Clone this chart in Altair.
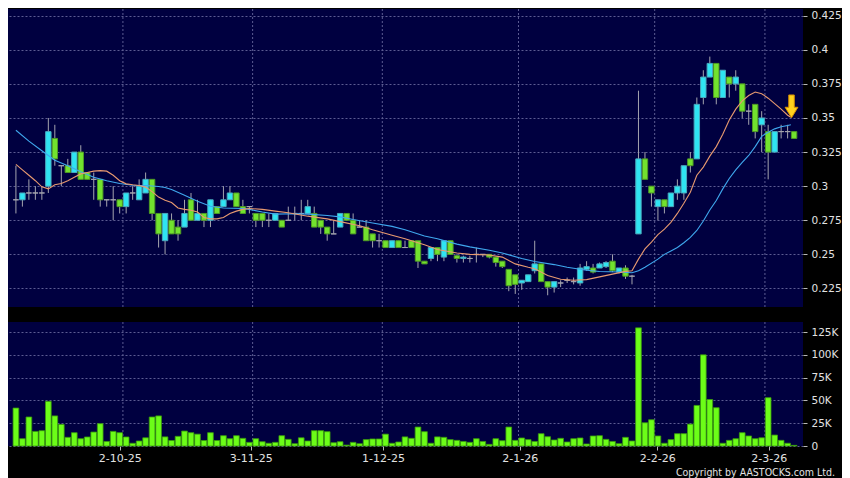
import altair as alt
import pandas as pd

# ---------------- data ----------------
opens = [
    0.29, 0.29, 0.295, 0.295, 0.295, 0.30, 0.335, 0.315, 0.315, 0.31,
    0.325, 0.31, 0.305, 0.305, 0.29, 0.29, 0.29, 0.285, 0.295, 0.29,
    0.295, 0.305, 0.28, 0.26, 0.275, 0.27, 0.27, 0.29, 0.275, 0.28,
    0.275, 0.285, 0.285, 0.29, 0.295, 0.285, 0.285, 0.28, 0.28, 0.275,
    0.275, 0.275, 0.275, 0.28, 0.28, 0.28, 0.28, 0.275, 0.27, 0.265,
    0.27, 0.28, 0.275, 0.27, 0.27, 0.265, 0.26, 0.26, 0.255, 0.26,
    0.255, 0.26, 0.26, 0.245, 0.247, 0.255, 0.248, 0.26, 0.249, 0.247,
    0.247, 0.25, 0.25, 0.25, 0.248, 0.245, 0.239, 0.235, 0.229, 0.23,
    0.238, 0.243, 0.23, 0.226, 0.229, 0.231, 0.23, 0.229, 0.239, 0.24,
    0.24, 0.241, 0.245, 0.237, 0.24, 0.234, 0.265, 0.32, 0.30, 0.285,
    0.29, 0.285, 0.295, 0.295, 0.32, 0.32, 0.365, 0.38, 0.39, 0.365,
    0.38, 0.375, 0.375, 0.355, 0.36, 0.345, 0.34, 0.325, 0.34, 0.34,
    0.34,
]
highs = [
    0.315, 0.295, 0.305, 0.30, 0.30, 0.35, 0.345, 0.315, 0.32, 0.325,
    0.33, 0.31, 0.31, 0.305, 0.29, 0.30, 0.29, 0.295, 0.30, 0.305,
    0.31, 0.305, 0.28, 0.28, 0.28, 0.275, 0.29, 0.295, 0.29, 0.28,
    0.29, 0.285, 0.30, 0.30, 0.295, 0.29, 0.285, 0.28, 0.28, 0.28,
    0.28, 0.275, 0.285, 0.285, 0.29, 0.29, 0.285, 0.275, 0.27, 0.275,
    0.28, 0.28, 0.28, 0.275, 0.275, 0.265, 0.265, 0.26, 0.26, 0.26,
    0.26, 0.26, 0.26, 0.245, 0.255, 0.255, 0.26, 0.26, 0.25, 0.249,
    0.249, 0.255, 0.25, 0.25, 0.248, 0.245, 0.239, 0.235, 0.231, 0.235,
    0.26, 0.243, 0.23, 0.23, 0.231, 0.233, 0.233, 0.243, 0.245, 0.243,
    0.244, 0.245, 0.25, 0.24, 0.242, 0.235, 0.37, 0.325, 0.30, 0.29,
    0.29, 0.295, 0.305, 0.315, 0.325, 0.365, 0.385, 0.395, 0.39, 0.385,
    0.38, 0.385, 0.375, 0.36, 0.36, 0.355, 0.345, 0.34, 0.345, 0.345,
    0.34,
]
lows = [
    0.28, 0.285, 0.29, 0.29, 0.29, 0.295, 0.315, 0.30, 0.31, 0.31,
    0.305, 0.305, 0.29, 0.285, 0.285, 0.275, 0.28, 0.28, 0.29, 0.29,
    0.295, 0.275, 0.255, 0.25, 0.265, 0.26, 0.27, 0.275, 0.275, 0.27,
    0.27, 0.28, 0.285, 0.29, 0.285, 0.28, 0.28, 0.27, 0.27, 0.27,
    0.275, 0.27, 0.275, 0.275, 0.275, 0.28, 0.27, 0.265, 0.26, 0.265,
    0.27, 0.275, 0.265, 0.27, 0.26, 0.255, 0.255, 0.255, 0.255, 0.255,
    0.255, 0.255, 0.24, 0.243, 0.245, 0.245, 0.245, 0.25, 0.244, 0.244,
    0.244, 0.244, 0.248, 0.247, 0.241, 0.24, 0.223, 0.221, 0.224, 0.23,
    0.236, 0.23, 0.22, 0.222, 0.226, 0.229, 0.228, 0.227, 0.238, 0.236,
    0.24, 0.24, 0.237, 0.236, 0.232, 0.228, 0.265, 0.305, 0.285, 0.275,
    0.28, 0.285, 0.29, 0.29, 0.31, 0.32, 0.36, 0.38, 0.36, 0.365,
    0.365, 0.37, 0.35, 0.345, 0.335, 0.325, 0.305, 0.325, 0.335, 0.335,
    0.335,
]
closes = [
    0.29, 0.295, 0.295, 0.295, 0.295, 0.34, 0.32, 0.315, 0.31, 0.325,
    0.305, 0.305, 0.305, 0.29, 0.29, 0.29, 0.285, 0.295, 0.295, 0.30,
    0.305, 0.28, 0.265, 0.28, 0.265, 0.265, 0.28, 0.275, 0.28, 0.275,
    0.29, 0.28, 0.29, 0.295, 0.285, 0.28, 0.285, 0.275, 0.275, 0.275,
    0.28, 0.27, 0.275, 0.28, 0.28, 0.285, 0.27, 0.27, 0.265, 0.265,
    0.28, 0.275, 0.265, 0.27, 0.26, 0.26, 0.26, 0.255, 0.26, 0.255,
    0.255, 0.255, 0.245, 0.243, 0.255, 0.25, 0.26, 0.25, 0.247, 0.248,
    0.247, 0.25, 0.25, 0.248, 0.244, 0.241, 0.227, 0.228, 0.231, 0.235,
    0.243, 0.23, 0.226, 0.23, 0.229, 0.231, 0.23, 0.24, 0.241, 0.237,
    0.243, 0.244, 0.238, 0.24, 0.234, 0.234, 0.32, 0.305, 0.295, 0.29,
    0.285, 0.295, 0.30, 0.315, 0.315, 0.36, 0.38, 0.39, 0.365, 0.385,
    0.375, 0.38, 0.355, 0.355, 0.34, 0.35, 0.325, 0.34, 0.34, 0.34,
    0.335,
]
volume_k = [
    41.6, 8, 31.8, 16, 16.8, 49, 33, 23.7, 9.5, 14.6,
    8, 9.9, 15.3, 24.5, 5, 16, 14.6, 9.9, 3, 5.5,
    9, 31.8, 33, 10, 6, 10.6, 16.4, 14.6, 13, 6,
    14.6, 6, 11.3, 8, 11.3, 8.4, 4, 8, 4.7, 3,
    4, 11.3, 7.3, 2.5, 9, 5.5, 16.8, 16.8, 15.7, 3.6,
    4.7, 1, 4, 2.5, 7, 7.7, 7.7, 13, 3, 4.4,
    10, 8.4, 20.8, 15.7, 3, 10, 9.5, 7, 6.2, 5,
    4, 8, 5, 1.8, 8, 5.8, 20.8, 6.2, 8.8, 7,
    5, 13.5, 10.2, 6.6, 8.4, 4.4, 8, 8.8, 2.2, 11,
    11.3, 7.3, 5, 2.5, 9.5, 5.5, 129.6, 25.5, 28.8, 11,
    3, 7, 13.5, 13.5, 24, 44.5, 100, 51, 42, 3,
    6.2, 8, 14.6, 11, 8, 9, 53, 12, 6.2, 3,
    0.7,
]

# short moving average (orange) read at these bar positions
ma10_idx = [0, 1, 2, 3, 4, 5, 6, 7, 8, 9, 10, 11, 12, 13, 14, 15, 16, 17, 18, 19,
            20, 21, 22, 23, 24, 25, 26, 27, 28, 29, 30, 31, 32, 33, 34, 35, 36, 38, 40, 42,
            45, 48, 50, 53, 55, 58, 60, 63, 65, 68, 70, 73, 75, 77, 79, 80, 82, 84, 86, 88,
            90, 92, 94, 95, 96, 97, 98, 99, 100, 101, 102, 103, 104, 105, 106, 107, 108, 109, 110, 111,
            112, 113, 114, 115, 116, 117, 118, 119, 119.5]
ma10_val = [0.316, 0.312, 0.308, 0.304, 0.2995, 0.298, 0.301, 0.302, 0.304, 0.3065,
            0.309, 0.310, 0.311, 0.3114, 0.311, 0.308, 0.304, 0.3017, 0.301, 0.3005,
            0.2993, 0.296, 0.292, 0.2896, 0.288, 0.284, 0.283, 0.2824, 0.281, 0.277,
            0.276, 0.276, 0.277, 0.280, 0.2817, 0.283, 0.2836, 0.283, 0.2817, 0.2805,
            0.278, 0.276, 0.274, 0.271, 0.268, 0.264, 0.2615, 0.257, 0.2535, 0.251,
            0.25, 0.2495, 0.248, 0.243, 0.2405, 0.2395, 0.2345, 0.2318, 0.231, 0.2315,
            0.2335, 0.2355, 0.2375, 0.238, 0.2465, 0.254, 0.259, 0.2645, 0.2685, 0.2735,
            0.28, 0.2875, 0.2955, 0.308, 0.314, 0.322, 0.329, 0.338, 0.3485, 0.3565,
            0.3625, 0.3665, 0.369, 0.3678, 0.3645, 0.3605, 0.3565, 0.352, 0.3505]

# long moving average (blue) read at these bar positions
ma20_idx = [0, 2, 4, 6, 8, 10, 12, 14, 16, 18, 20, 22, 23, 24, 26, 28, 30, 32, 35, 36,
            38, 40, 43, 45, 48, 50, 52, 55, 58, 60, 63, 65, 68, 70, 73, 75, 78, 80, 83, 85,
            88, 90, 93, 95, 96, 97, 99, 100, 101, 102, 103, 104, 105, 106, 107, 108, 109, 110, 111, 112,
            113, 114, 115, 116, 117, 118, 119, 119.5]
ma20_val = [0.341, 0.333, 0.326, 0.319, 0.315, 0.3106, 0.3065, 0.304, 0.302, 0.3007,
            0.3005, 0.2998, 0.299, 0.2976, 0.2933, 0.2889, 0.2853, 0.284, 0.2836, 0.283,
            0.281, 0.2795, 0.2798, 0.2795, 0.2785, 0.2775, 0.2755, 0.273, 0.2705, 0.268,
            0.2635, 0.2615, 0.2575, 0.2555, 0.253, 0.251, 0.247, 0.2448, 0.2425, 0.2405,
            0.2384, 0.2374, 0.2371, 0.2365, 0.238, 0.2405, 0.2465, 0.250, 0.2525, 0.255,
            0.2585, 0.2625, 0.2675, 0.2745, 0.2825, 0.2895, 0.298, 0.3056, 0.312, 0.3175,
            0.3225, 0.329, 0.3365, 0.3395, 0.342, 0.3435, 0.3445, 0.345]

grid_idx = [16.5, 36.5, 56.5, 77.5, 98.5, 115.5]
label_idx = [16.0, 36.2, 56.6, 77.7, 98.9, 116.1]
label_text = ["2-10-25", "3-11-25", "1-12-25", "2-1-26", "2-2-26", "2-3-26"]
price_ticks = [0.225, 0.25, 0.275, 0.3, 0.325, 0.35, 0.375, 0.4, 0.425]
vol_ticks = [0, 25000, 50000, 75000, 100000, 125000]
arrow_idx = [119.6]
arrow_price = [0.3585]
copyright_text = ["Copyright by AASTOCKS.com Ltd."]

# ---------------- tables ----------------
n = len(opens)
direction = ["up" if c > o else ("down" if c < o else "flat") for o, c in zip(opens, closes)]
candles = pd.DataFrame({
    "i": list(range(n)), "open": opens, "high": highs, "low": lows,
    "close": closes, "dir": direction, "volume": [v * 1000 for v in volume_k],
})
ma10 = pd.DataFrame({"i": ma10_idx, "v": ma10_val})
ma20 = pd.DataFrame({"i": ma20_idx, "v": ma20_val})
grid = pd.DataFrame({"g": grid_idx})
arrow = pd.DataFrame({"i": arrow_idx, "p": arrow_price})
copy_df = pd.DataFrame({"t": copyright_text})

# ---------------- style ----------------
W = 795
PH = 298
VH = 124
GRID = "#5c5c92"
LABEL = "#e2e2e2"
FONT = "DejaVu Sans"
WICK = "#a4a4ae"

xs = alt.Scale(domain=[-0.45, 120.6], nice=False, zero=False)
ps = alt.Scale(domain=[0.2114, 0.4299], nice=False, zero=False)
vs = alt.Scale(domain=[0, 136000], nice=False, zero=True)

price_axis = alt.Axis(
    orient="right", values=price_ticks, labelExpr="format(datum.value, '~g')",
    grid=True, gridColor=GRID, gridDash=[2, 2], gridWidth=1, domain=False,
    tickColor="#b8b8b8", tickSize=4, labelPadding=4, labelColor=LABEL,
    labelFont=FONT, labelFontSize=10.5, title=None,
)
vol_axis = alt.Axis(
    orient="right", values=vol_ticks,
    labelExpr="datum.value == 0 ? '0' : format(datum.value / 1000, 'd') + 'K'",
    grid=True, gridColor=GRID, gridDash=[2, 2], gridWidth=1, domain=False,
    tickColor="#b8b8b8", tickSize=4, labelPadding=4, labelColor=LABEL,
    labelFont=FONT, labelFontSize=10.5, title=None,
)
x_label_expr = " : ".join(f"datum.value == {v} ? '{t}'" for v, t in zip(label_idx, label_text)) + " : ''"
x_axis = alt.Axis(
    orient="bottom", values=label_idx, labelExpr=x_label_expr, grid=False, domain=False,
    tickColor="#b8b8b8", tickSize=4, labelPadding=2, labelColor=LABEL,
    labelFont=FONT, labelFontSize=11, title=None, labelFlush=False, labelOverlap=False,
)

dir_fill = alt.Scale(domain=["up", "down", "flat"], range=["#2fe4f2", "#72e22e", WICK])
dir_stroke = alt.Scale(domain=["up", "down", "flat"], range=["#4aa9bd", "#4e9a24", WICK])

# ---------------- price panel ----------------
vgrid_p = alt.Chart(grid).mark_rule(color=GRID, strokeDash=[2, 2], strokeWidth=1).encode(
    x=alt.X("g:Q", scale=xs, axis=None)
)
wicks = alt.Chart(candles).mark_rule(color=WICK, strokeWidth=1).encode(
    x=alt.X("i:Q", scale=xs, axis=None),
    y=alt.Y("low:Q", scale=ps, axis=price_axis),
    y2="high:Q",
)
bodies = alt.Chart(candles).mark_bar(size=5.4, strokeWidth=1).encode(
    x=alt.X("i:Q", scale=xs, axis=None),
    y=alt.Y("open:Q", scale=ps, axis=price_axis),
    y2="close:Q",
    fill=alt.Fill("dir:N", scale=dir_fill, legend=None),
    stroke=alt.Stroke("dir:N", scale=dir_stroke, legend=None),
)
line20 = alt.Chart(ma20).mark_line(color="#3fa8ee", strokeWidth=1.1).encode(
    x=alt.X("i:Q", scale=xs, axis=None),
    y=alt.Y("v:Q", scale=ps, axis=price_axis),
)
line10 = alt.Chart(ma10).mark_line(color="#e89a70", strokeWidth=1.1).encode(
    x=alt.X("i:Q", scale=xs, axis=None),
    y=alt.Y("v:Q", scale=ps, axis=price_axis),
)
ARROW = "M -0.24 -1 L 0.24 -1 L 0.24 0.08 L 0.56 0.08 L 0 1 L -0.56 0.08 L -0.24 0.08 Z"
arrow_mark = alt.Chart(arrow).mark_point(
    shape=ARROW, filled=True, fill="#ffd21e", stroke="#d89000", strokeWidth=1, size=520, opacity=1
).encode(
    x=alt.X("i:Q", scale=xs, axis=None),
    y=alt.Y("p:Q", scale=ps, axis=price_axis),
)
price = alt.layer(vgrid_p, wicks, bodies, line20, line10, arrow_mark).properties(width=W, height=PH)

# ---------------- volume panel ----------------
vbars = alt.Chart(candles).mark_bar(size=5.7, fill="#6cfd18", stroke="#3a9a0c", strokeWidth=0.8).encode(
    x=alt.X("i:Q", scale=xs, axis=x_axis),
    y=alt.Y("volume:Q", scale=vs, axis=vol_axis),
)
vgrid_v = alt.Chart(grid).mark_rule(color=GRID, strokeDash=[2, 2], strokeWidth=1).encode(
    x=alt.X("g:Q", scale=xs, axis=x_axis)
)
copy_mark = alt.Chart(copy_df).mark_text(
    align="right", baseline="middle", font="DejaVu Sans Condensed, DejaVu Sans", fontSize=10.5,
    color=LABEL
).encode(
    text="t:N", x=alt.value(W + 32), y=alt.value(VH + 27)
)
volume = alt.layer(vgrid_v, vbars, copy_mark).properties(width=W, height=VH)

chart = (
    alt.vconcat(price, volume, spacing=13)
    .properties(padding=0)
    .configure(background="#000000")
    .configure_view(fill="#000040", stroke=None)
)

chart.save("out.html", embed_options={"renderer": "svg", "actions": False})
